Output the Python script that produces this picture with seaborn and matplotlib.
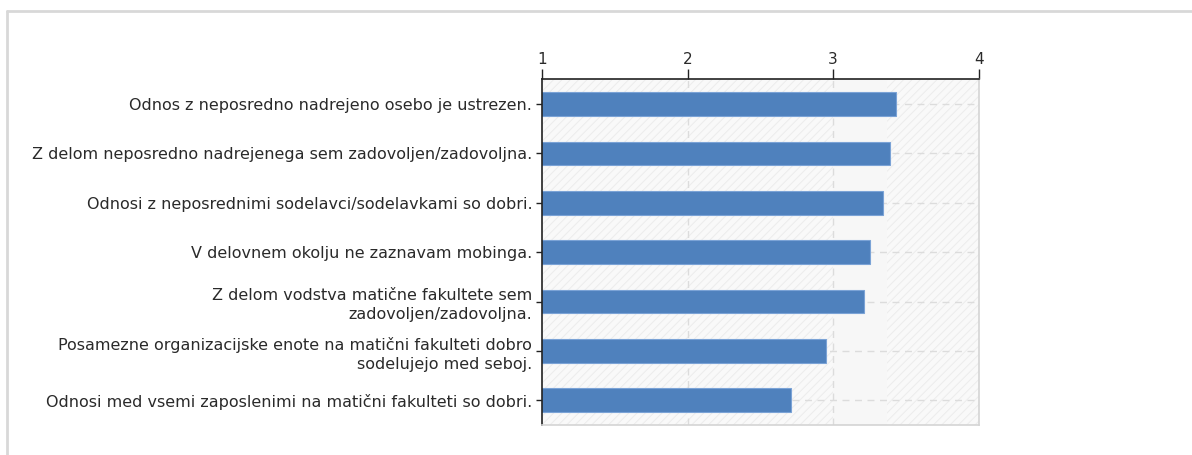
import matplotlib
matplotlib.use("Agg")
import matplotlib.pyplot as plt
import seaborn as sns
import pandas as pd
from matplotlib.lines import Line2D

# Data
statements = [
    "Odnos z neposredno nadrejeno osebo je ustrezen.",
    "Z delom neposredno nadrejenega sem zadovoljen/zadovoljna.",
    "Odnosi z neposrednimi sodelavci/sodelavkami so dobri.",
    "V delovnem okolju ne zaznavam mobinga.",
    "Z delom vodstva matične fakultete sem\nzadovoljen/zadovoljna.",
    "Posamezne organizacijske enote na matični fakulteti dobro\nsodelujejo med seboj.",
    "Odnosi med vsemi zaposlenimi na matični fakulteti so dobri.",
]
scores = [3.43, 3.39, 3.34, 3.25, 3.21, 2.95, 2.71]
x_ticks = [1, 2, 3, 4]

df = pd.DataFrame({"statement": statements, "score": scores})

sns.set_style("white")
plt.rcParams["font.family"] = ["DejaVu Sans"]
plt.rcParams["hatch.linewidth"] = 0.7

fig = plt.figure(figsize=(11.92, 4.55), dpi=100)
ax = fig.add_axes([0.4547, 0.0659, 0.3664, 0.7598])

# hatched plot background
ax.axvspan(1, 4, facecolor="#f9f9f9", edgecolor="#ececec", hatch="////",
           linewidth=0, zorder=0)
ax.axvspan(3, 3.37, facecolor="#f7f7f7", linewidth=0, zorder=0.1)

# dashed grid
for v in [2, 3]:
    ax.axvline(v, color="#dcdcdc", linestyle=(0, (5, 4)), linewidth=1, zorder=0.5)
for i in range(len(statements)):
    ax.axhline(i, color="#dcdcdc", linestyle=(0, (5, 4)), linewidth=1, zorder=0.5)

sns.barplot(data=df, x="score", y="statement", orient="h", color="#4f81bd",
            saturation=1, width=0.48, edgecolor="#7ba3d6", linewidth=0.8,
            ax=ax, zorder=2)

ax.set_xlim(1, 4)
ax.set_ylim(len(statements) - 0.5, -0.5)
ax.set_xticks(x_ticks)
ax.set_xticklabels([str(t) for t in x_ticks])
ax.xaxis.tick_top()
ax.set_xlabel("")
ax.set_ylabel("")

ax.tick_params(axis="x", which="both", direction="out", length=7, width=1,
               color="#222222", labelsize=11, labelcolor="#2a2a2a", pad=2,
               top=True, bottom=False)
ax.tick_params(axis="y", direction="out", length=4, width=1, color="#222222",
               labelsize=11.5, labelcolor="#2a2a2a", pad=3, left=True)
for lab in ax.get_yticklabels():
    lab.set_horizontalalignment("right")
    lab.set_multialignment("right")
    lab.set_linespacing(1.3)

for side in ["top", "left"]:
    ax.spines[side].set_color("#222222")
    ax.spines[side].set_linewidth(1.2)
    ax.spines[side].set_visible(True)
for side in ["right", "bottom"]:
    ax.spines[side].set_color("#d4d4d4")
    ax.spines[side].set_linewidth(1.2)
    ax.spines[side].set_visible(True)

# outer panel frame
fig.add_artist(Line2D([7 / 1192, 1], [1 - 10.5 / 455] * 2, color="#d8d8d8",
                      linewidth=2, transform=fig.transFigure))
fig.add_artist(Line2D([7.5 / 1192] * 2, [0, 1 - 10.5 / 455], color="#d8d8d8",
                      linewidth=2, transform=fig.transFigure))

fig.savefig("out.png", dpi=100, facecolor="white")
